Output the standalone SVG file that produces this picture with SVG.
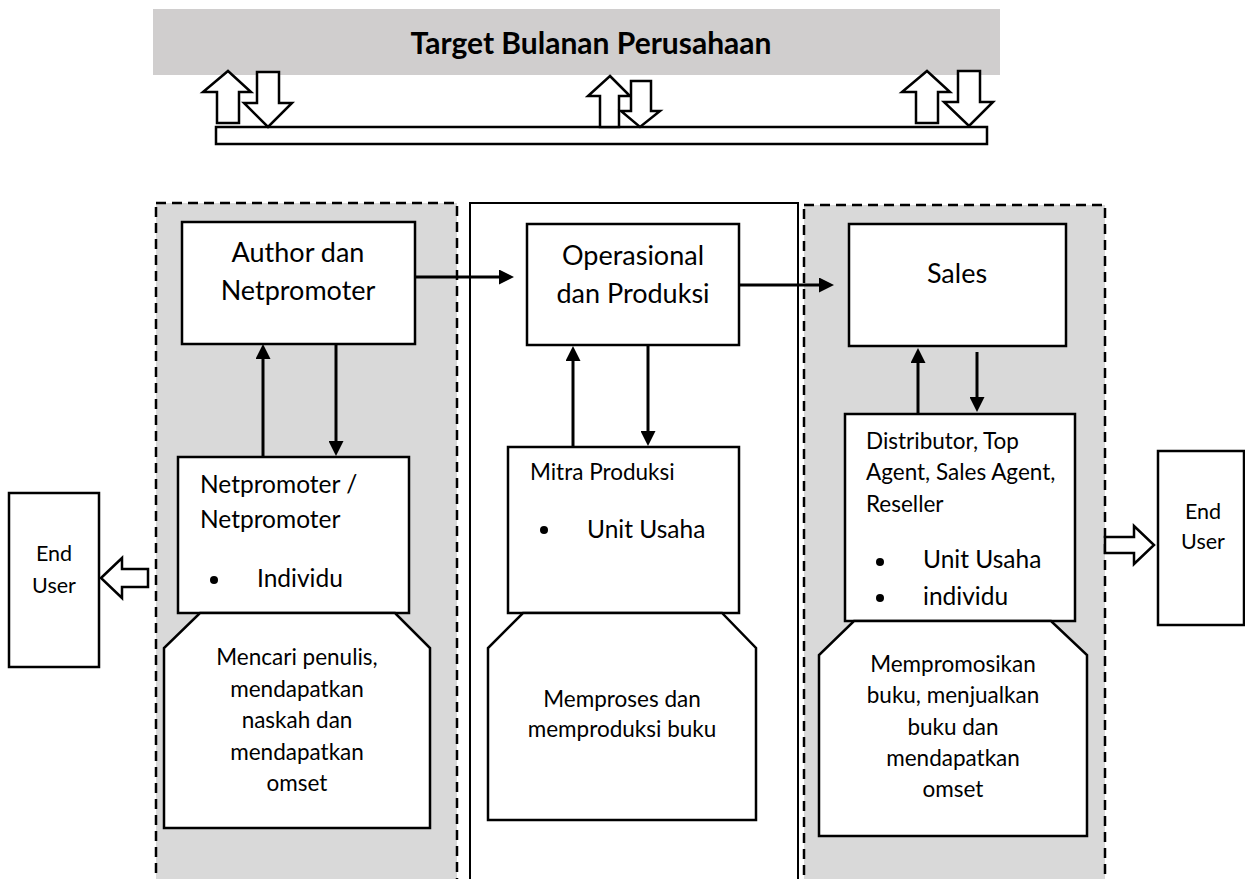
<svg xmlns="http://www.w3.org/2000/svg" width="1245" height="879" viewBox="0 0 1245 879">
  <defs>
    <marker id="head" viewBox="0 0 15 15" refX="4" refY="7.5" markerWidth="15" markerHeight="15" markerUnits="userSpaceOnUse" orient="auto">
      <path d="M0,0 L15,7.5 L0,15 Z" fill="#000"/>
    </marker>
    <style>
      .txt { font-family: Lato, "Liberation Sans", sans-serif; fill: #000; }
      .h1 { font-size: 27px; text-anchor: middle; }
      .t24 { font-size: 22.5px; }
      .t26 { font-size: 24.5px; }
      .t23 { font-size: 21.5px; }
      .mid { text-anchor: middle; }
      .box { fill: #fff; stroke: #000; stroke-width: 2.5; }
      .block { fill: #fff; stroke: #000; stroke-width: 2.5; stroke-linejoin: miter; }
      .dashed { fill: #d9d9d9; stroke: #000; stroke-width: 2.5; stroke-dasharray: 10 6; }
      .solid { fill: #fff; stroke: #000; stroke-width: 2; }
      .conn { stroke: #000; stroke-width: 3; fill: none; marker-end: url(#head); }
    </style>
  </defs>

  <rect width="1245" height="879" fill="#fff"/>

  <!-- monthly target banner -->
  <g id="target">
    <rect x="153" y="9" width="847" height="66" fill="#d0cece"/>
    <text class="txt" x="591" y="54" font-size="30" font-weight="bold" text-anchor="middle">Target Bulanan Perusahaan</text>
  </g>

  <!-- feedback bar and hollow arrows -->
  <g id="target-bar">
    <rect class="box" x="216" y="127" width="771" height="17"/>
    <polygon class="block" points="228,71 251,92 239,92 239,123 217,123 217,92 203,92"/>
    <polygon class="block" points="257,72 279,72 279,103 292,103 268,127 244,103 257,103"/>
    <polygon class="block" points="610,76 630,96 619,96 619,127 600,127 600,96 588,96"/>
    <polygon class="block" points="631,81 651,81 651,111 660,111 640,127 621,111 631,111"/>
    <polygon class="block" points="927,71 950,92 938,92 938,123 916,123 916,92 902,92"/>
    <polygon class="block" points="958,71 980,71 980,102 993,102 969,126 944,102 958,102"/>
  </g>

  <!-- department lanes -->
  <g id="lane-author">
    <rect class="dashed" x="156" y="203" width="301" height="690"/>
  </g>
  <g id="lane-operasional">
    <rect class="solid" x="470" y="203" width="328" height="690"/>
  </g>
  <g id="lane-sales">
    <rect class="dashed" x="804" y="205" width="301" height="690"/>
  </g>

  <g id="author">
    <rect class="box" x="182" y="222" width="233" height="122"/>
    <text class="txt h1" x="298" y="262">Author dan</text>
    <text class="txt h1" x="298" y="300">Netpromoter</text>
  </g>

  <g id="netpromoter">
    <rect class="box" x="178" y="457" width="231" height="156"/>
    <text class="txt t26" x="200" y="493">Netpromoter /</text>
    <text class="txt t26" x="200" y="528">Netpromoter</text>
    <circle cx="214" cy="580" r="4"/>
    <text class="txt t26" x="257" y="587">Individu</text>
  </g>

  <g id="task-author">
    <polygon class="box" points="200,613 395,613 430,648 430,828 164,828 164,648"/>
    <text class="txt t24 mid" x="297" y="665">Mencari penulis,</text>
    <text class="txt t24 mid" x="297" y="697">mendapatkan</text>
    <text class="txt t24 mid" x="297" y="728">naskah dan</text>
    <text class="txt t24 mid" x="297" y="760">mendapatkan</text>
    <text class="txt t24 mid" x="297" y="791">omset</text>
  </g>

  <g id="operasional">
    <rect class="box" x="527" y="224" width="212" height="121"/>
    <text class="txt h1" x="633" y="265">Operasional</text>
    <text class="txt h1" x="633" y="303">dan Produksi</text>
  </g>

  <g id="mitra">
    <rect class="box" x="508" y="447" width="231" height="166"/>
    <text class="txt t24" x="530" y="480">Mitra Produksi</text>
    <circle cx="544" cy="530" r="4"/>
    <text class="txt t26" x="587" y="538">Unit Usaha</text>
  </g>

  <g id="task-operasional">
    <polygon class="box" points="523,613 722,613 756,648 756,820 488,820 488,648"/>
    <text class="txt t24 mid" x="622" y="707">Memproses dan</text>
    <text class="txt t24 mid" x="622" y="737">memproduksi buku</text>
  </g>

  <g id="sales">
    <rect class="box" x="849" y="224" width="217" height="122"/>
    <text class="txt h1" x="957" y="283">Sales</text>
  </g>

  <g id="distributor">
    <rect class="box" x="845" y="414" width="230" height="207"/>
    <text class="txt t24" x="866" y="449">Distributor, Top</text>
    <text class="txt t24" x="866" y="480">Agent, Sales Agent,</text>
    <text class="txt t24" x="866" y="512">Reseller</text>
    <circle cx="880" cy="562" r="4"/>
    <text class="txt t26" x="923" y="568">Unit Usaha</text>
    <circle cx="880" cy="598" r="4"/>
    <text class="txt t26" x="923" y="605">individu</text>
  </g>

  <g id="task-sales">
    <polygon class="box" points="854,621 1051,621 1087,655 1087,836 819,836 819,655"/>
    <text class="txt t24 mid" x="953" y="672">Mempromosikan</text>
    <text class="txt t24 mid" x="953" y="703">buku, menjualkan</text>
    <text class="txt t24 mid" x="953" y="735">buku dan</text>
    <text class="txt t24 mid" x="953" y="766">mendapatkan</text>
    <text class="txt t24 mid" x="953" y="797">omset</text>
  </g>

  <g id="end-user-left">
    <rect class="box" x="9" y="493" width="90" height="174"/>
    <text class="txt t23 mid" x="54" y="561">End</text>
    <text class="txt t23 mid" x="54" y="593">User</text>
  </g>

  <g id="end-user-right">
    <rect class="box" x="1158" y="451" width="86" height="174"/>
    <text class="txt t23 mid" x="1203" y="519">End</text>
    <text class="txt t23 mid" x="1203" y="549">User</text>
  </g>

  <g id="connectors">
    <line class="conn" x1="415" y1="277" x2="503" y2="277"/>
    <line class="conn" x1="739" y1="285" x2="823" y2="285"/>
    <line class="conn" x1="263" y1="457" x2="263" y2="355"/>
    <line class="conn" x1="336" y1="344" x2="336" y2="445"/>
    <line class="conn" x1="573" y1="447" x2="573" y2="357"/>
    <line class="conn" x1="648" y1="345" x2="648" y2="435"/>
    <line class="conn" x1="918" y1="414" x2="918" y2="359"/>
    <line class="conn" x1="977" y1="352" x2="977" y2="401"/>
    <polygon class="block" points="101,578 122,558 122,569 148,569 148,587 122,587 122,598"/>
    <polygon class="block" points="1105,537 1134,537 1134,526 1154,545 1134,564 1134,553 1105,553"/>
  </g>
</svg>
